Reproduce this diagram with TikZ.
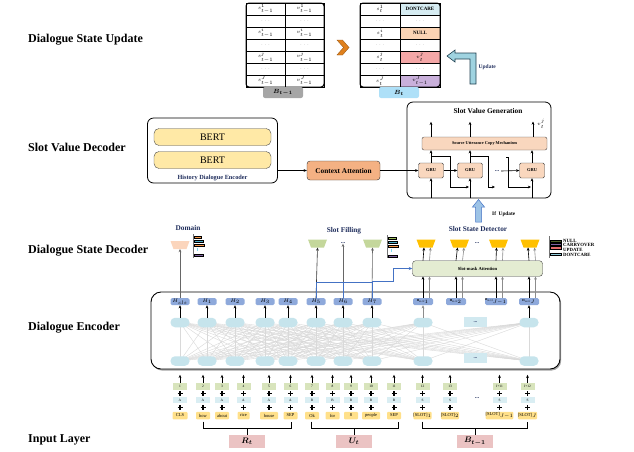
\documentclass[tikz,border=0pt]{standalone}
\usepackage{fontspec}
\setmainfont{Liberation Serif}
\usepackage{bm}
\DeclareMathSizes{3}{3}{2.2}{1.8}
\DeclareMathSizes{3.5}{3.5}{2.6}{2}
\DeclareMathSizes{4.3}{4.3}{3.2}{2.5}
\DeclareMathSizes{4.5}{4.5}{3.3}{2.6}
\DeclareMathSizes{5}{5}{3.6}{2.8}
\DeclareMathSizes{5.5}{5.5}{4}{3}
\DeclareMathSizes{6}{6}{4.4}{3.3}
\DeclareMathSizes{8}{8}{6}{4.5}
\usetikzlibrary{arrows.meta,shadows}
\definecolor{posG}{HTML}{D8E4BC}
\definecolor{segB}{HTML}{DAEEF3}
\definecolor{tokY}{HTML}{FFE08A}
\definecolor{hB}{HTML}{8EA9DB}
\definecolor{ellC}{HTML}{C6E4EC}
\definecolor{meshG}{HTML}{D9D9D9}
\definecolor{bertY}{HTML}{FFE9A6}
\definecolor{ctxO}{HTML}{F4B183}
\definecolor{peach}{HTML}{F9D7BE}
\definecolor{smaG}{HTML}{E4ECD2}
\definecolor{domP}{HTML}{FBD5BC}
\definecolor{sfG}{HTML}{C4D79B}
\definecolor{ssY}{HTML}{FFC000}
\definecolor{lblP}{HTML}{EBC3C3}
\definecolor{navy}{HTML}{1F2D5C}
\definecolor{lineB}{HTML}{4472C4}
\definecolor{dcB}{HTML}{D6ECF2}
\definecolor{nullO}{HTML}{FBD4B4}
\definecolor{vjR}{HTML}{F4A7A7}
\definecolor{vjP}{HTML}{C9B0DB}
\definecolor{btG}{HTML}{A6A6A6}
\definecolor{btB}{HTML}{AEE0F8}
\definecolor{chevO}{HTML}{E0801C}
\definecolor{updB}{HTML}{9FD3E0}
\definecolor{updE}{HTML}{1F3F4F}
\definecolor{ifB}{HTML}{9DC3E6}
\definecolor{lgO}{HTML}{F79646}
\definecolor{lgT}{HTML}{4BACC6}
\definecolor{lgP}{HTML}{8064A2}
\definecolor{lgG}{HTML}{9BBB59}
\definecolor{lgDG}{HTML}{4F6228}
\definecolor{lgR}{HTML}{E46C6C}
\definecolor{lgLB}{HTML}{92CDDC}
\definecolor{lgC}{HTML}{7FD8F0}
\newcommand{\mydots}{\textcolor{gray}{$\cdots$}}
% trapezoid: name, x, y(center), colour ; named coordinate at its bottom centre
\newcommand{\mytrap}[4]{%
  \fill[#4] (#2-9.5,#3-4) -- (#2+9.5,#3-4) -- (#2+6.5,#3+4) -- (#2-6.5,#3+4) -- cycle;
  \coordinate (#1) at (#2,#3+4);}
\pgfdeclarelayer{bg}
\pgfdeclarelayer{mid}
\pgfsetlayers{bg,mid,main}
\begin{document}
\begin{tikzpicture}[x=1pt,y=-1pt,
  sectlab/.style={font=\fontsize{12}{14}\selectfont\bfseries, anchor=west, inner sep=0pt},
  arr/.style={-{Stealth[length=3.2pt,width=2.8pt]}, line width=0.6pt},
  garr/.style={arr, draw=black!45},
  cell/.style={draw, line width=0.4pt, minimum width=39pt, minimum height=12pt, inner sep=0pt, font=\fontsize{5}{6}\selectfont},
  tablab/.style={rounded corners=2pt, minimum width=40pt, minimum height=11pt, inner sep=0pt, font=\fontsize{6}{7}\selectfont},
  ttl/.style={font=\fontsize{7.3}{8}\selectfont\bfseries, text=navy, inner sep=0pt},
  hbox/.style={rounded corners=1.5pt, fill=hB, minimum width=19pt, minimum height=7pt, inner sep=0pt, font=\fontsize{3.5}{4}\selectfont\bfseries},
  ell/.style={rounded corners=4.5pt, fill=ellC, minimum width=19pt, minimum height=9.5pt, inner sep=0pt},
  posb/.style={fill=posG, minimum width=14pt, minimum height=7pt, inner sep=0pt, font=\fontsize{3.5}{4}\selectfont},
  segb/.style={fill=segB, minimum width=14pt, minimum height=6.5pt, inner sep=0pt, font=\fontsize{3.5}{4}\selectfont},
  tokb/.style={fill=tokY, rounded corners=1pt, minimum height=7.5pt, inner sep=0pt, font=\fontsize{4.5}{5}\selectfont},
  pluss/.style={line width=1.2pt},
  inlab/.style={fill=lblP, minimum width=36pt, minimum height=13pt, inner sep=0pt, font=\fontsize{8}{9}\selectfont},
  gru/.style={draw=black!75, fill=peach, rounded corners=1.5pt, minimum width=25pt, minimum height=15pt, inner sep=0pt, font=\fontsize{4.5}{5}\selectfont\bfseries},
  legbar/.style={draw=black, line width=0.3pt},
  leglab/.style={anchor=west, font=\fontsize{4.8}{5}\selectfont\bfseries, inner sep=0pt},
  dts/.style={font=\fontsize{6}{6}\selectfont\bfseries, text=navy, inner sep=0pt}
]
\useasboundingbox (0,0) rectangle (634,451);

% ---------- section labels ----------
\node[sectlab] (l1) at (28,40) {Dialogue State Update};
\node[sectlab] (l2) at (28,147) {Slot Value Decoder};
\node[sectlab] (l3) at (28,251) {Dialogue State Decoder};
\node[sectlab] (l4) at (28,328) {Dialogue Encoder};
\node[sectlab] (l5) at (28,440) {Input Layer};

% ---------- Dialogue state update tables ----------
\foreach \a/\b [count=\i] in {{$s^1_{t-1}$}/{$v^1_{t-1}$},{\mydots}/{\mydots},{$s^i_{t-1}$}/{$v^i_{t-1}$},{\mydots}/{\mydots},{$s^j_{t-1}$}/{$v^j_{t-1}$},{\mydots}/{\mydots},{$s^J_{t-1}$}/{$v^J_{t-1}$}}{
  \node[cell] (LA\i) at (265.5,{12*\i-3}) {\a};
  \node[cell] (LB\i) at (304.5,{12*\i-3}) {\b};
}
\draw[line width=1pt, rounded corners=3pt] (246,3) rectangle (324,87);
\foreach \a/\b/\c [count=\i] in {{$s^1_t$}/{\textbf{DONTCARE}}/dcB,{\mydots}/{\mydots}/white,{$s^i_t$}/{\textbf{NULL}}/nullO,{\mydots}/{\mydots}/white,{$s^j_t$}/{$v^j_t$}/vjR,{\mydots}/{\mydots}/white,{$s^J_t$}/{$v^J_{t-1}$}/vjP}{
  \node[cell, minimum width=40pt] (RA\i) at (380,{12*\i-3}) {\a};
  \node[cell, minimum width=40pt, fill=\c] (RB\i) at (420,{12*\i-3}) {\b};
}
\draw[line width=1pt, rounded corners=3pt] (360,3) rectangle (440,87);
\node[tablab, fill=btG] (Bt1) at (283,92.5) {$\bm{B_{t-1}}$};
\node[tablab, fill=btB] (Bt) at (399,92.5) {$\bm{B_t}$};
% chevron
\fill[chevO, draw=chevO!70!black, line width=0.4pt] (337,40) -- (342.5,40) -- (349,47.5) -- (342.5,55) -- (337,55) -- (343.5,47.5) -- cycle;
% update arrow
\draw[fill=updB, draw=updE, line width=0.6pt] (447,56) -- (455,50) -- (455,53) -- (476,53) -- (476,84) -- (470,84) -- (470,59) -- (455,59) -- (455,62) -- cycle;
\node[font=\fontsize{5.5}{6}\selectfont\bfseries, text=navy, anchor=west, inner sep=0pt] (updlab) at (478.5,67) {Update};

% ---------- Slot value decoder ----------
\node[draw, rounded corners=6pt, line width=0.8pt, minimum width=130pt, minimum height=65pt] (hde) at (212.5,150.5) {};
\node[draw=black!70, fill=bertY, rounded corners=5pt, minimum width=117pt, minimum height=17pt, inner sep=0pt, font=\fontsize{10}{11}\selectfont] (bert1) at (212.5,137) {BERT};
\node[draw=black!70, fill=bertY, rounded corners=5pt, minimum width=117pt, minimum height=17pt, inner sep=0pt, font=\fontsize{10}{11}\selectfont] (bert2) at (212.5,160) {BERT};
\node[font=\fontsize{6.3}{7}\selectfont\bfseries, text=navy, inner sep=0pt] (hdelab) at (212.5,178) {History Dialogue Encoder};
\node[draw=black!80, fill=ctxO, rounded corners=3pt, minimum width=73pt, minimum height=19pt, inner sep=0pt, font=\fontsize{7.3}{8}\selectfont\bfseries] (ctx) at (343.5,170.5) {Context Attention};
\draw[arr] (ctx.west -| hde.east) -- (ctx.west);

\node[draw, rounded corners=6pt, line width=0.8pt, minimum width=144pt, minimum height=96pt] (svg) at (479,150) {};
\node[ttl, text=black] (svgt) at (488,111) {Slot Value Generation};
\node[draw=black!70, fill=peach, rounded corners=2pt, minimum width=125pt, minimum height=13pt, inner sep=0pt, font=\fontsize{4.3}{5}\selectfont\bfseries] (copy) at (484.5,143.5) {Source Utterance Copy Mechanism};
\node[gru] (G1) at (431,170.5) {GRU};
\node[gru] (G2) at (470,170.5) {GRU};
\node[gru] (G3) at (532,170.5) {GRU};
\node[dts, minimum width=8pt] (gd) at (497,171) {...};
\draw[arr] (ctx.east) -- (G1.west);
\draw[arr] (G1.east) -- (G2.west);
\draw[arr] (gd.east) -- (G3.west);
\foreach \g in {G1,G2,G3}{
  \draw[arr] (\g.north) -- (\g.north |- copy.south);
  \draw[arr] (\g.south |- svg.south) -- (\g.south);
}
\coordinate (o3) at (533,136.5);
\draw[arr] (copy.north -| G1) -- ++(0,-15);
\draw[arr] (copy.north -| G2) -- ++(0,-15);
\draw[arr] (o3) -- ++(0,-15);
\node[font=\fontsize{5.5}{6}\selectfont, inner sep=0pt] (vj) at (541,124) {$v_t^j$};
\draw[arr] (431,156) -| (450,187) -- (469,187);
\draw[arr] (470,156) -| (488,187) -- (495,187);
\draw[arr] (506,157) -| (508,187) -- (531,187);
% if update arrow
\draw[draw=lineB, fill=ifB, line width=0.5pt] (475.5,222) -- (475.5,207) -- (472.5,207) -- (478.5,199.5) -- (484.5,207) -- (481.5,207) -- (481.5,222) -- cycle;
\node[font=\fontsize{5.3}{6}\selectfont\bfseries, anchor=west, inner sep=0pt] (iflab) at (492,214) {If\ \ Update};

% ---------- Dialogue encoder ----------
\begin{pgfonlayer}{bg}
\node[draw, line width=0.9pt, rounded corners=10pt, fill=white, minimum width=409pt, minimum height=77pt,
  drop shadow={shadow xshift=1.2pt, shadow yshift=-1.6pt, fill=black!60, opacity=0.6}] (enc) at (355.5,330.5) {};
\end{pgfonlayer}
\foreach \x/\t [count=\i] in {180/{cls},207/1,235/2,265/3,288/4,316/5,343/6,372/7}{
  \node[hbox] (H\i) at (\x,301.5) {$H_{\t}$};
  \node[ell] (U\i) at (\x,322.5) {};
  \node[ell] (D\i) at (\x,361) {};
  \draw[arr] (U\i.north) -- (H\i.south);
}
\node[ell] (U9) at (423,322.5) {};
\node[ell] (D9) at (423,361) {};
\node[ell] (U10) at (529,322.5) {};
\node[ell] (D10) at (529,361) {};
\node[fill=ellC!80, minimum width=23pt, minimum height=10pt, inner sep=0pt, font=\fontsize{5}{5}\selectfont\bfseries, text=navy] (UD) at (475.5,322) {...};
\node[fill=ellC!80, minimum width=23pt, minimum height=10pt, inner sep=0pt, font=\fontsize{5}{5}\selectfont\bfseries, text=navy] (DD) at (475.5,358) {...};
\foreach \x/\t [count=\i] in {423/1,456/2,496/{J-1},529/J}{
  \node[hbox, minimum width=20pt, font=\fontsize{3}{4}\selectfont\bfseries] (HS\i) at (\x,301.5) {H$_{\mathrm{SLOT}_{\t}}$};
}
\draw[garr] (U9.north) -- (HS1.south);
\draw[arr] (U10.north) -- (HS4.south);
\begin{pgfonlayer}{mid}
\foreach \i in {1,...,10}{\foreach \j in {1,...,10}{\draw[meshG, line width=0.4pt] (D\i.center) -- (U\j.center);}}
\end{pgfonlayer}

% ---------- Input layer ----------
\foreach \x/\tk/\w/\p/\s [count=\i] in {180/CLS/15/1/A,203/how/14/2/A,222/about/14/3/A,243.5/rice/12/4/A,269/house/18/5/A,290.5/SEP/14/6/A,312/Ok/14/7/B,332.5/for/14/8/B,351/8/14/9/B,371/people/18/10/B,394/SEP/14/11/B,422.5/{[SLOT]$_1$}/17/12/S,450/{[SLOT]$_2$}/16/13/S,499.5/{[SLOT]$_{J-1}$}/24/{J+11}/S,527.5/{[SLOT]$_J$}/19/{J+12}/S}{
  \node[posb] (P\i) at (\x,386.5) {\p};
  \node[segb] (S\i) at (\x,400) {\s};
  \node[tokb, minimum width=\w pt] (T\i) at (\x,415.5) {\tk};
  \draw[pluss] (\x-2.5,393.5) -- (\x+2.5,393.5) (\x,391) -- (\x,396);
  \draw[pluss] (\x-2.5,407.5) -- (\x+2.5,407.5) (\x,405) -- (\x,410);
  \draw[arr] (P\i.north) -- ++(0,-8);
}
\node[dts] (ind) at (477,398) {...};
\node[inlab] (Rt) at (247,441.5) {$\bm{R_t}$};
\node[inlab] (Ut) at (354,441.5) {$\bm{U_t}$};
\node[inlab] (Bb) at (475,441.5) {$\bm{B_{t-1}}$};
\coordinate (brR) at (247,428);
\coordinate (brU) at (354,428);
\coordinate (brB) at (475,428);
\draw[line width=0.9pt] (203,421.5) -- (203,428) -- (291,428) -- (291,421.5);
\draw[line width=0.9pt] (Rt.north) -- (brR);
\draw[line width=0.9pt] (311,421.5) -- (311,428) -- (398,428) -- (398,421.5);
\draw[line width=0.9pt] (Ut.north) -- (brU);
\draw[line width=0.9pt] (422,421.5) -- (422,428) -- (527,428) -- (527,421.5);
\draw[line width=0.9pt] (Bb.north) -- (brB);

% ---------- Dialogue state decoder ----------
% domain
\node[ttl] (domlab) at (188,228) {Domain};
\mytrap{domT}{180}{245}{domP}
\draw[arr, draw=black!60, line width=0.9pt] (H1.north) -- (domT);
\draw[line width=1pt, black!55] (193.5,234) -- (193.5,258);
\foreach \y/\l/\c in {237/7/lgO,241/9/lgT,245/10/lgO,255/9/lgP}{\draw[legbar, fill=\c] (194.5,\y-1.1) rectangle ++(\l,2.2);}
\fill[lgC] (196.5,248) rectangle ++(1.5,3);
% slot filling
\node[ttl] (sflab) at (344,231) {Slot Filling};
\mytrap{SF1}{317.5}{243.5}{sfG}
\mytrap{SF2}{372.5}{243.5}{sfG}
\node[dts] (sfd) at (343,243) {...};
\draw[arr, draw=black!80] (H6.north) -- (SF1);
\draw[arr, draw=black!60] (H7.north) -- (H7.north |- sfd.south);
\draw[arr, draw=black!60] (H8.north) -- (SF2);
\draw[line width=1pt, black!55] (387.5,235) -- (387.5,258);
\foreach \y/\l/\c in {238/8/lgG,242/9/lgT,246/10/lgO,256/9/lgP}{\draw[legbar, fill=\c] (388.5,\y-1.1) rectangle ++(\l,2.2);}
\fill[lgC] (390.5,249) rectangle ++(1.5,3);
% blue connections
\coordinate (bl1) at (316,282);
\coordinate (bl2) at (372,282);
\coordinate (bl3) at (393,281);
\coordinate (bl4) at (372,281);
\draw[lineB, line width=0.8pt] (H6.north) -- (bl1) -- (bl2);
\draw[lineB, line width=0.8pt] (H7.north) -- (H7.north |- bl1);
\draw[lineB, line width=0.8pt] (H8.north) -- (bl2);
% slot state detector
\node[ttl] (sslab) at (478,228.5) {Slot State Detector};
\node[draw=black!75, fill=smaG, rounded corners=3pt, minimum width=130pt, minimum height=15.5pt, inner sep=0pt, font=\fontsize{4.6}{5}\selectfont\bfseries] (sma) at (477.5,268.5) {Slot-mask Attention};
\draw[lineB, line width=0.8pt, -{Stealth[length=3.5pt,width=3pt]}] (bl4) -- (bl3) |- (sma.west);
\mytrap{SS1}{426}{243.5}{ssY}
\mytrap{SS2}{459.5}{243.5}{ssY}
\mytrap{SS3}{498.5}{243.5}{ssY}
\mytrap{SS4}{530}{243.5}{ssY}
\node[dts] (ssd) at (477,243) {...};
\foreach \i in {1,...,4}{
  \draw[arr] (HS\i.north) -- (HS\i.north |- sma.south);
  \draw[garr] ([xshift=6.5pt]HS\i.north) -- ([xshift=6.5pt]HS\i.north |- sma.south);
  \draw[arr] (sma.north -| HS\i) -- ([xshift=-2pt]SS\i);
  \draw[garr] ([xshift=6.5pt]sma.north -| HS\i) -- ([xshift=4.5pt]SS\i);
}
\draw[line width=1pt, black!55] (549.5,236) -- (549.5,258);
\foreach \y/\c in {241/lgDG,244.3/lgP,247.6/lgR,254/lgLB}{\draw[legbar, fill=\c] (550.5,\y-1.1) rectangle ++(11,2.2);}
\node[leglab] (n1) at (563,241) {NULL};
\node[leglab] (n2) at (563,244.7) {CARRYOVER};
\node[leglab] (n3) at (563,249.5) {UPDATE};
\node[leglab] (n4) at (563,255) {DONTCARE};
\end{tikzpicture}
\end{document}
